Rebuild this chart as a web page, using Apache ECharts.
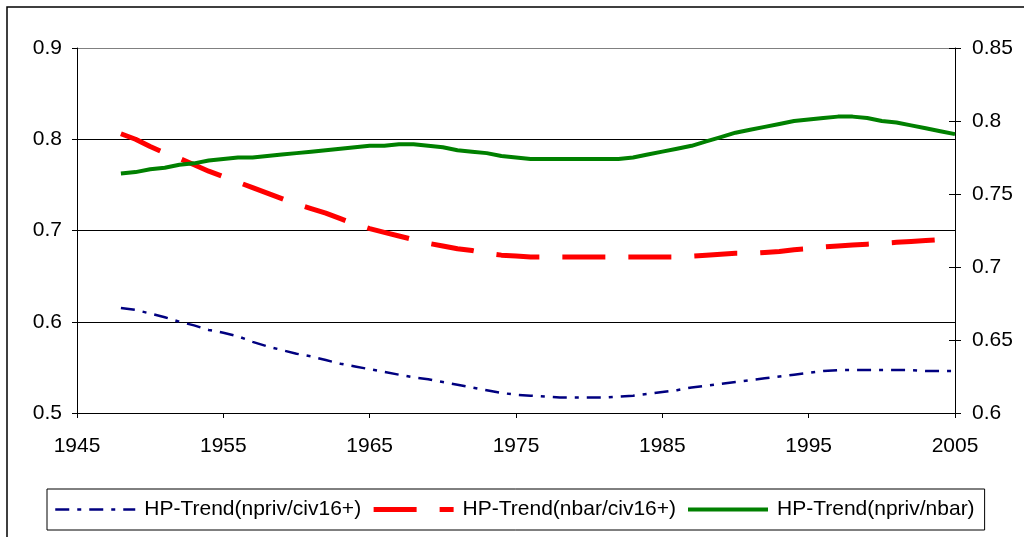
<!DOCTYPE html>
<html>
<head>
<meta charset="utf-8">
<title>HP-Trend</title>
<script src="https://cdn.jsdelivr.net/npm/echarts@6/dist/echarts.min.js"></script>
<style>
  html, body { margin: 0; padding: 0; background: #fff; }
  #chart { width: 1024px; height: 537px; }
</style>
</head>
<body>
<div id="chart"></div>
<script>
// data, one value per year
var years = [1948, 1949, 1950, 1951, 1952, 1953, 1954, 1955, 1956, 1957,
  1958, 1959, 1960, 1961, 1962, 1963, 1964, 1965, 1966, 1967,
  1968, 1969, 1970, 1971, 1972, 1973, 1974, 1975, 1976, 1977,
  1978, 1979, 1980, 1981, 1982, 1983, 1984, 1985, 1986, 1987,
  1988, 1989, 1990, 1991, 1992, 1993, 1994, 1995, 1996, 1997,
  1998, 1999, 2000, 2001, 2002, 2003, 2004, 2005];

var nprivCiv = [0.615, 0.613, 0.609, 0.605, 0.600, 0.596, 0.591, 0.588, 0.584, 0.578,
  0.573, 0.569, 0.565, 0.562, 0.558, 0.554, 0.551, 0.548, 0.545, 0.542,
  0.539, 0.537, 0.534, 0.531, 0.528, 0.525, 0.522, 0.520, 0.519, 0.518,
  0.517, 0.517, 0.517, 0.517, 0.518, 0.519, 0.521, 0.523, 0.525, 0.528,
  0.530, 0.532, 0.534, 0.536, 0.538, 0.540, 0.542, 0.544, 0.546, 0.547,
  0.547, 0.547, 0.547, 0.547, 0.547, 0.546, 0.546, 0.546];

var nbarCiv = [0.806, 0.800, 0.792, 0.785, 0.779, 0.772, 0.765, 0.759, 0.753, 0.747,
  0.741, 0.735, 0.729, 0.724, 0.719, 0.713, 0.707, 0.702, 0.698, 0.694,
  0.690, 0.686, 0.683, 0.680, 0.678, 0.675, 0.673, 0.672, 0.671, 0.671,
  0.671, 0.671, 0.671, 0.671, 0.671, 0.671, 0.671, 0.671, 0.671, 0.672,
  0.673, 0.674, 0.675, 0.675, 0.676, 0.677, 0.679, 0.680, 0.682, 0.683,
  0.684, 0.685, 0.686, 0.687, 0.688, 0.689, 0.690, 0.692];

// right axis
var nprivNbar = [0.764, 0.765, 0.767, 0.768, 0.770, 0.771, 0.773, 0.774, 0.775, 0.775,
  0.776, 0.777, 0.778, 0.779, 0.780, 0.781, 0.782, 0.783, 0.783, 0.784,
  0.784, 0.783, 0.782, 0.780, 0.779, 0.778, 0.776, 0.775, 0.774, 0.774,
  0.774, 0.774, 0.774, 0.774, 0.774, 0.775, 0.777, 0.779, 0.781, 0.783,
  0.786, 0.789, 0.792, 0.794, 0.796, 0.798, 0.800, 0.801, 0.802, 0.803,
  0.803, 0.802, 0.800, 0.799, 0.797, 0.795, 0.793, 0.791];

var seriesNames = ["HP-Trend(npriv/civ16+)", "HP-Trend(nbar/civ16+)", "HP-Trend(npriv/nbar)"];
var seriesColors = ["#000080", "#ff0000", "#008000"];
var lineWidths = [2.5, 5, 4];
var lineTypes = [[14, 8, 4, 8], [43, 23], "solid"];

function pairs(vals) {
  return years.map(function (y, i) { return [y, vals[i]]; });
}

var font = "'Liberation Sans', Arial, sans-serif";
var myChart = echarts.init(document.getElementById("chart"), null, { renderer: "canvas" });

// legend entries carry their own line width (legend default is 2px)
var legendData = seriesNames.map(function (name, i) {
  return {
    name: name,
    lineStyle: { width: lineWidths[i], type: lineTypes[i], color: seriesColors[i] }
  };
});

var option = {
  animation: false,
  backgroundColor: "#fff",
  textStyle: { fontFamily: font },
  grid: { left: 77, right: 69, top: 48, bottom: 124 },
  // outer frame of the chart area
  graphic: [{
    type: "rect",
    shape: { x: 7, y: 7, width: 1100, height: 600 },
    style: { fill: null, stroke: "#000", lineWidth: 1.5 },
    silent: true
  }],
  legend: {
    left: 47,
    top: 489,
    orient: "horizontal",
    padding: [10, 10, 10, 7],
    borderColor: "#000",
    borderWidth: 1,
    itemWidth: 80,
    itemHeight: 14,
    itemGap: 10,
    // hide the marker dot, keep the line
    itemStyle: { opacity: 0 },
    textStyle: { fontFamily: font, fontSize: 21, color: "#000", padding: [0, 0, 0, 4] },
    data: legendData
  },
  xAxis: {
    type: "value",
    min: 1945,
    max: 2005,
    interval: 10,
    axisLine: { onZero: false, lineStyle: { color: "#000", width: 1 } },
    axisTick: { show: true, length: 5, lineStyle: { color: "#000" } },
    axisLabel: {
      margin: 23, fontSize: 21, color: "#000", fontFamily: font,
      formatter: function (v) { return String(v); }
    },
    splitLine: { show: false }
  },
  yAxis: [{
    type: "value",
    position: "left",
    min: 0.5,
    max: 0.9,
    interval: 0.1,
    axisLine: { show: true, lineStyle: { color: "#000", width: 1 } },
    axisTick: { show: true, length: 5, lineStyle: { color: "#000" } },
    axisLabel: {
      margin: 15, fontSize: 21, color: "#000", fontFamily: font,
      formatter: function (v) { return String(Math.round(v * 10) / 10); }
    },
    splitLine: {
      show: true,
      lineStyle: { color: ["#000", "#000", "#000", "#000", "#808080"], width: 1 }
    }
  }, {
    type: "value",
    position: "right",
    min: 0.6,
    max: 0.85,
    interval: 0.05,
    axisLine: { show: true, lineStyle: { color: "#000", width: 1 } },
    axisTick: { show: true, length: 6, lineStyle: { color: "#000" } },
    axisLabel: {
      margin: 17, fontSize: 21, color: "#000", fontFamily: font,
      formatter: function (v) { return String(Math.round(v * 100) / 100); }
    },
    splitLine: { show: false }
  }, {
    // inner half of the crossing ticks on the right axis
    type: "value",
    position: "right",
    min: 0.6,
    max: 0.85,
    interval: 0.05,
    axisLine: { show: false },
    axisTick: { show: true, inside: true, length: 6, lineStyle: { color: "#000" } },
    axisLabel: { show: false },
    splitLine: { show: false }
  }],
  series: [{
    name: seriesNames[0],
    type: "line",
    yAxisIndex: 0,
    symbol: "none",
    data: pairs(nprivCiv),
    lineStyle: { color: seriesColors[0], width: lineWidths[0], type: lineTypes[0] },
    itemStyle: { color: seriesColors[0] }
  }, {
    name: seriesNames[1],
    type: "line",
    yAxisIndex: 0,
    symbol: "none",
    data: pairs(nbarCiv),
    lineStyle: { color: seriesColors[1], width: lineWidths[1], type: lineTypes[1] },
    itemStyle: { color: seriesColors[1] }
  }, {
    name: seriesNames[2],
    type: "line",
    yAxisIndex: 1,
    symbol: "none",
    data: pairs(nprivNbar),
    lineStyle: { color: seriesColors[2], width: lineWidths[2], type: lineTypes[2] },
    itemStyle: { color: seriesColors[2] }
  }]
};

myChart.setOption(option);

window.addEventListener("resize", function () {
  if (myChart != null) {
    myChart.resize();
  }
});
</script>
</body>
</html>
